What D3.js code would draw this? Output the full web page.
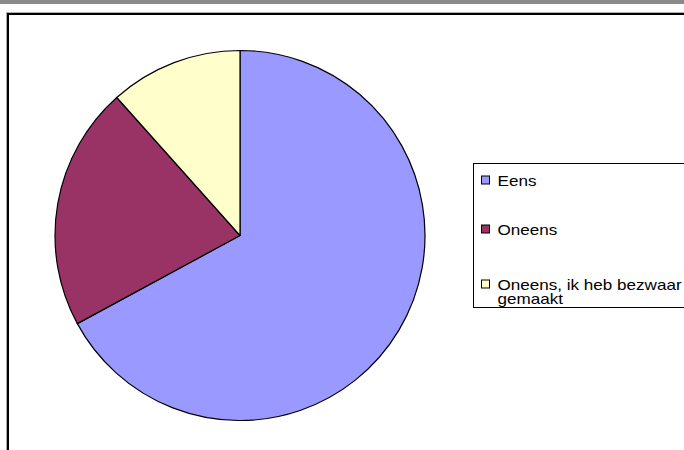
<!DOCTYPE html>
<html>
<head>
<meta charset="utf-8">
<script src="https://cdn.jsdelivr.net/npm/d3@7"></script>
<style>
  body { margin: 0; background: #fff; }
  svg text { font-family: "Liberation Sans", Arial, sans-serif; }
</style>
</head>
<body>
<div id="chart"></div>
<script>
// answers (share of replies, %)
var categories = ["Eens", "Oneens", "Oneens, ik heb bezwaar gemaakt"];
var legendLines = [["Eens"], ["Oneens"], ["Oneens, ik heb bezwaar", "gemaakt"]];
var values = [67.1, 21.3, 11.6];
var colors = ["#9999FF", "#993366", "#FFFFCC"];

var width = 684, height = 450;

var svg = d3.select("#chart").append("svg")
    .attr("width", width)
    .attr("height", height);

// grey strip along the top
svg.append("rect")
    .attr("x", 0).attr("y", 0)
    .attr("width", width).attr("height", 4)
    .attr("fill", "#8a8a8a");

// chart frame (runs off the right and bottom)
svg.append("rect")
    .attr("x", 6.5).attr("y", 12.5)
    .attr("width", 700).attr("height", 460)
    .attr("fill", "none")
    .attr("stroke", "#b0b0b0")
    .attr("stroke-width", 1);
svg.append("rect")
    .attr("x", 8).attr("y", 14)
    .attr("width", 700).attr("height", 460)
    .attr("fill", "none")
    .attr("stroke", "#000")
    .attr("stroke-width", 2);

// pie
var cx = 240, cy = 235.5, radius = 185;

var pie = d3.pie()
    .sort(null)
    .value(function(d) { return d; });

var arc = d3.arc()
    .innerRadius(0)
    .outerRadius(radius);

var g = svg.append("g")
    .attr("transform", "translate(" + cx + "," + cy + ")");

g.selectAll("path")
    .data(pie(values))
    .enter().append("path")
    .attr("d", arc)
    .attr("fill", function(d, i) { return colors[i]; })
    .attr("stroke", "#000")
    .attr("stroke-width", 1.2)
    .attr("stroke-linejoin", "round");

// legend
var legend = svg.append("g").attr("transform", "translate(473.5,163.5)");

legend.append("rect")
    .attr("x", 0).attr("y", 0)
    .attr("width", 260).attr("height", 144)
    .attr("fill", "#fff")
    .attr("stroke", "#000")
    .attr("stroke-width", 1);

var itemY = [17, 66, 121];   // centre of the first line of each entry
var lineH = 14.5;

var item = legend.selectAll(".item")
    .data(categories)
    .enter().append("g")
    .attr("class", "item")
    .attr("transform", function(d, i) { return "translate(0," + itemY[i] + ")"; });

item.append("rect")
    .attr("x", 8).attr("y", -4.5)
    .attr("width", 8).attr("height", 8)
    .attr("fill", function(d, i) { return colors[i]; })
    .attr("stroke", "#000")
    .attr("stroke-width", 1);

item.each(function(d, i) {
    var t = d3.select(this).append("text")
        .attr("transform", "translate(24,5) scale(1.22,1)")
        .attr("font-size", "14px")
        .attr("fill", "#000");
    legendLines[i].forEach(function(line, j) {
        t.append("tspan")
            .attr("x", 0)
            .attr("dy", j === 0 ? 0 : lineH)
            .text(line);
    });
});
</script>
</body>
</html>
